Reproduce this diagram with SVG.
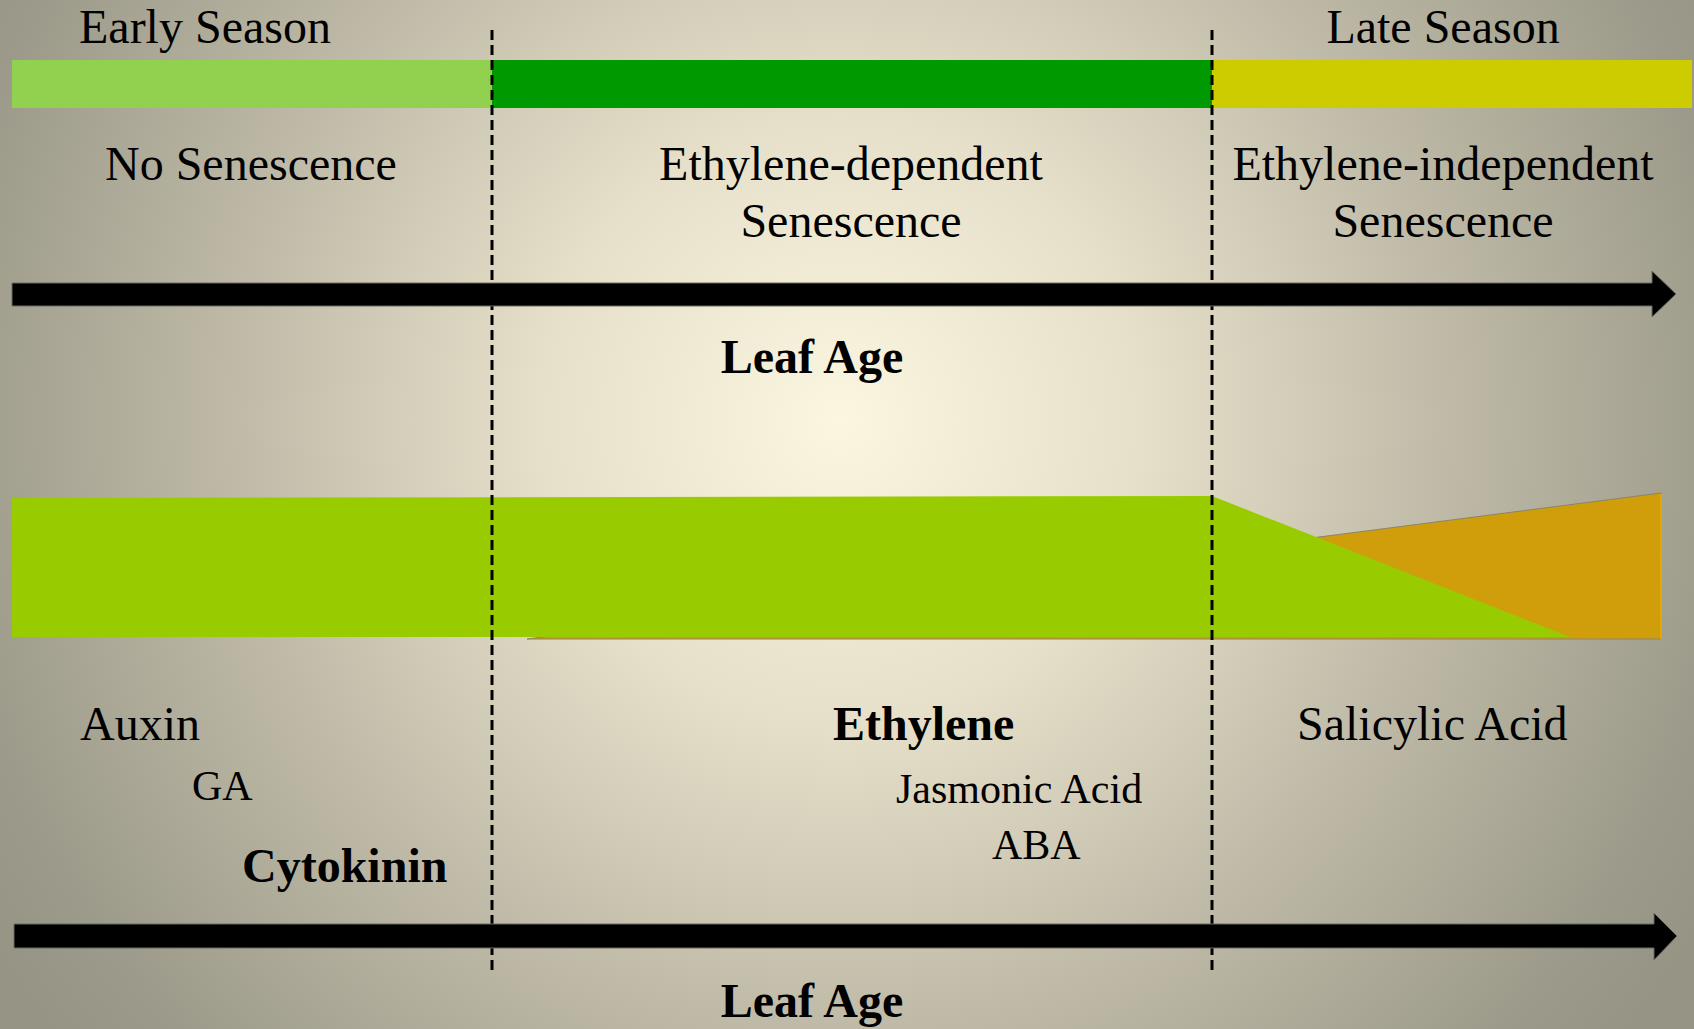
<svg xmlns="http://www.w3.org/2000/svg" width="1694" height="1029" viewBox="0 0 1694 1029">
<defs>
<radialGradient id="bg" gradientUnits="userSpaceOnUse" cx="840" cy="420" r="1000">
<stop offset="0" stop-color="#FBF6DF"/>
<stop offset="0.3" stop-color="#E6E0CA"/>
<stop offset="0.6" stop-color="#C0BBA8"/>
<stop offset="0.9" stop-color="#9C9A8A"/>
<stop offset="1" stop-color="#969484"/>
</radialGradient>
<style>
.t{font-family:"Liberation Serif","Times New Roman",serif;fill:#000;}
.l{font-size:48px;}
.s{font-size:42px;}
.b{font-weight:bold;font-size:48px;}
.dash{stroke:#000;stroke-width:3;stroke-dasharray:10 5;fill:none;}
.arrow{fill:#000;stroke:#6b6a5e;stroke-width:1;}
</style>
</defs>
<rect x="0" y="0" width="1694" height="1029" fill="url(#bg)"/>

<g id="season-bar">
<rect x="12" y="60" width="480" height="48" fill="#92D050"/>
<rect x="492" y="60" width="720" height="48" fill="#009900"/>
<rect x="1212" y="60" width="480" height="48" fill="#CCCC00"/>
</g>

<g id="hormone-bands">
<polygon points="527,639 1661,493 1661,639" fill="#D09E0A" stroke="#8C8466" stroke-width="1"/>
<line x1="1661" y1="494" x2="1661" y2="639" stroke="#E2AA00" stroke-width="2"/>
<polygon points="12,498 1212,496 1570,637 12,637" fill="#99CC00"/>
</g>

<g id="connectors">
<line class="dash" x1="492" y1="30" x2="492" y2="974"/>
<line class="dash" x1="1212" y1="30" x2="1212" y2="974"/>
<polygon class="arrow" points="12,283 1652,283 1652,271 1676,294 1652,317 1652,306 12,306"/>
<polygon class="arrow" points="14,924 1654,924 1654,913 1677,936 1654,960 1654,948 14,948"/>
</g>

<g id="early-season"><text class="t l" x="79" y="43">Early Season</text></g>
<g id="late-season"><text class="t l" x="1443" y="43" text-anchor="middle">Late Season</text></g>
<g id="no-senescence"><text class="t l" x="105" y="180">No Senescence</text></g>
<g id="ethylene-dependent">
<text class="t l" x="851" y="180" text-anchor="middle">Ethylene-dependent</text>
<text class="t l" x="851" y="237" text-anchor="middle">Senescence</text>
</g>
<g id="ethylene-independent">
<text class="t l" x="1443" y="180" text-anchor="middle">Ethylene-independent</text>
<text class="t l" x="1443" y="237" text-anchor="middle">Senescence</text>
</g>
<g id="leaf-age-1"><text class="t b" x="812" y="373" text-anchor="middle">Leaf Age</text></g>
<g id="auxin"><text class="t l" x="80" y="740">Auxin</text></g>
<g id="ga"><text class="t s" x="192" y="800">GA</text></g>
<g id="cytokinin"><text class="t b" x="242" y="882">Cytokinin</text></g>
<g id="ethylene"><text class="t b" x="833" y="740">Ethylene</text></g>
<g id="jasmonic-acid"><text class="t s" x="896" y="803">Jasmonic Acid</text></g>
<g id="aba"><text class="t s" x="992" y="859">ABA</text></g>
<g id="salicylic-acid"><text class="t l" x="1297" y="740">Salicylic Acid</text></g>
<g id="leaf-age-2"><text class="t b" x="812" y="1017" text-anchor="middle">Leaf Age</text></g>
</svg>
